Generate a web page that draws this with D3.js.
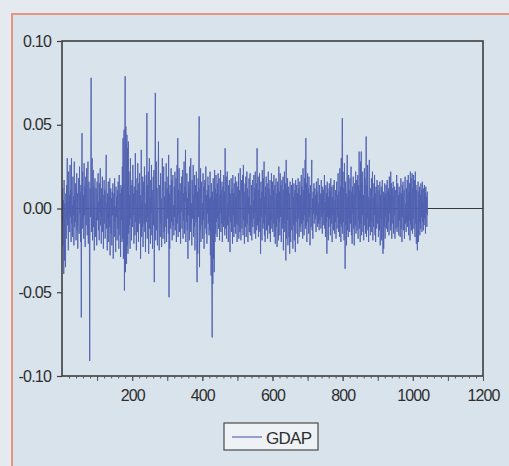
<!DOCTYPE html>
<html>
<head>
<meta charset="utf-8">
<script src="https://cdn.jsdelivr.net/npm/d3@7"></script>
<style>
  html, body { margin: 0; padding: 0; background: #e6ecf0; }
  svg { display: block; }
  text { font-family: "Liberation Sans", Arial, sans-serif; fill: #2e2e2e; }
</style>
</head>
<body>
<svg id="chart" width="509" height="466"></svg>
<script>
// ---- data (GDAP, in thousandths; observation numbers start at 1) ----
const seriesName = "GDAP";
const gdapPermille = [
 -8,12,-22,5,-39,17,-31,3,-12,-35,9,-18,14,-6,30,-10,4,-25,22,-3,
 8,-14,26,-5,11,-20,30,-9,2,-17,19,-4,7,-22,28,-11,5,-8,15,-19,
 3,21,-13,9,-24,6,18,-7,-15,25,-3,10,-20,14,-65,4,45,-12,22,-6,
 8,-18,27,-4,13,-23,6,19,-10,24,-2,-16,11,28,-21,5,16,-9,-91,12,
 -5,20,78,-14,9,30,-19,4,23,-11,13,-25,7,18,-8,-17,12,3,-22,16,
 -7,10,21,-13,4,-19,15,-2,24,-10,6,-21,12,-5,19,-14,8,-24,2,17,
 -9,11,-18,5,14,32,-12,3,-25,9,-6,16,-20,7,-11,18,-28,4,12,-15,
 6,-22,10,-4,15,-30,3,9,-17,18,-8,1,-26,13,-5,7,-19,11,-12,16,
 -3,-24,20,5,-16,9,-29,14,-7,12,-20,25,-18,42,-30,38,47,-49,35,79,
 -38,49,28,-33,44,-22,36,-27,40,-15,22,-10,8,-24,30,-6,14,-19,3,17,
 -11,26,-4,9,-21,13,2,-16,33,-8,18,-25,5,11,-14,27,-3,-20,15,-9,
 21,-6,8,-30,12,35,-17,4,-11,19,-23,7,16,-9,25,-14,3,-26,10,20,
 -8,57,-18,14,-5,22,-27,9,30,-12,6,-21,17,-3,26,-16,11,-24,4,19,
 -10,23,-44,8,15,69,-19,5,28,-13,12,-22,3,18,40,-7,-25,14,2,-17,
 21,-9,6,-23,13,30,-4,-18,10,25,-14,7,-21,16,1,-11,27,-20,8,12,
 -6,19,-15,32,-53,9,-24,14,4,-12,24,-8,17,-19,6,20,-10,2,-16,13,
 -5,22,-13,8,18,-20,3,26,-9,42,-17,11,-4,24,-14,7,15,-21,10,-2,
 19,-12,5,23,-18,9,-7,28,-15,13,4,35,-20,10,-8,21,-13,6,-30,16,
 -4,12,-19,25,7,-14,30,-9,3,-22,17,-6,11,26,-17,8,-11,20,-25,5,
 14,-8,22,-19,-44,10,-27,18,-5,29,55,-35,12,-13,24,-20,6,16,-10,3,
 -18,21,-7,13,-24,9,17,-12,4,25,-15,8,-21,11,-3,19,-9,14,-16,6,
 -13,22,-28,7,-40,15,-35,-77,10,-45,18,-30,5,-38,23,-20,12,-15,20,-8,
 9,-17,15,-6,21,-12,4,18,-19,8,-3,23,-14,11,-9,16,-20,2,13,-11,
 20,-7,10,-16,36,-12,5,19,-18,8,22,-10,3,-20,14,-5,17,-13,-26,9,
 -8,18,-14,6,12,-21,20,-4,9,-17,15,-11,2,19,-15,7,-9,16,-20,4,
 13,-10,21,-18,5,11,-14,24,-6,-19,8,17,-12,3,20,-16,26,-7,10,-21,
 6,15,-11,19,-17,4,22,-9,12,-20,7,-3,18,-14,10,21,-16,2,-8,14,
 -19,9,17,-11,5,-6,20,-15,12,-2,22,-18,8,15,-13,36,-10,4,19,-17,
 11,-8,21,-14,6,-27,16,-5,10,-19,23,3,-12,18,-9,28,-16,7,-20,13,
 -4,19,-13,9,15,-18,2,22,-10,12,-15,6,17,-20,8,-7,21,-12,4,16,
 -14,11,-9,20,-17,7,14,-21,3,18,-11,9,-23,16,-6,12,-19,25,-8,10,
 -16,21,-5,14,-20,8,17,-12,4,19,-25,11,-9,22,-14,6,15,-31,29,-18,
 12,-7,18,-22,5,13,-17,9,-27,16,-4,-20,10,14,-13,3,18,-24,7,-10,
 15,-19,6,11,-26,17,-8,2,14,-15,9,-21,18,-6,12,-17,4,16,-11,8,
 -14,20,-9,13,5,-18,24,-7,11,-16,18,-4,29,-12,42,-10,15,-20,7,21,
 -8,12,-15,19,-5,9,-22,14,3,-11,17,29,-13,6,-18,10,-3,15,-9,4,
 12,-6,8,-14,16,-4,10,-11,5,18,-9,3,-13,14,-7,9,2,-12,17,-5,
 8,-15,13,-3,11,-10,6,20,-12,4,-17,14,-8,9,-27,16,-5,12,-19,7,
 -11,15,-6,10,-16,18,3,-9,13,-20,7,-4,14,-13,9,17,-15,5,-8,11,
 -18,6,16,-12,8,-5,21,-14,10,2,-17,24,-9,13,-20,30,-11,18,54,-15,
 22,-8,12,-19,27,5,-36,16,-10,9,-22,14,32,-13,7,-17,20,-6,11,-14,
 18,-9,4,25,-16,10,-21,13,-3,19,-12,8,-22,15,2,-10,22,-15,6,17,
 -13,9,20,-18,14,-7,34,-12,11,-20,28,-9,34,-16,16,-4,22,-14,8,-19,
 12,24,-10,18,-15,9,43,-17,14,-6,26,-13,7,-20,19,29,-11,5,-16,12,
 -8,18,-14,10,22,-19,6,-11,15,-4,20,-16,9,-20,13,3,-12,17,-9,7,
 14,-17,5,11,-13,16,-22,8,-6,13,-19,4,17,-15,-27,10,-24,7,-11,15,
 -18,9,-5,14,-12,6,17,-14,10,-8,12,-16,19,-3,8,-13,22,-10,15,-18,
 5,12,-9,16,-15,7,-4,13,-18,9,11,-12,6,20,-14,3,15,-11,8,-16,
 13,-7,10,-17,4,18,-12,9,-20,14,-5,16,-13,7,11,-18,6,19,-9,3,
 -14,12,-8,17,-11,6,20,-16,10,-7,15,-19,22,-10,18,-13,8,21,-15,12,
 -6,20,-12,9,17,-17,22,-9,14,-21,11,-14,-25,6,16,-20,10,-8,13,-16,
 8,-12,15,-5,11,-14,16,-8,4,-13,12,-10,14,-6,9,-15,13,-3,7,-11,10,-4
];
const xDomain = [0, 1200];
const yDomain = [-0.10, 0.10];
const xTickLabels = [200, 400, 600, 800, 1000, 1200];
const yTickLabels = [-0.10, -0.05, 0.00, 0.05, 0.10];

const data = gdapPermille.map((v, i) => ({ obs: i + 1, value: v / 1000 }));

// ---- layout ----
const svg = d3.select("#chart");
const W = 509, H = 466;
const plot = { left: 62, right: 483, top: 41, bottom: 376 };
const FONT = '"Liberation Sans", Arial, sans-serif';

// outer panel + salmon frame
svg.append("rect").attr("x", 0).attr("y", 0).attr("width", W).attr("height", H).attr("fill", "#e4eaef");
svg.append("rect").attr("x", 12).attr("y", 14).attr("width", W - 12).attr("height", H - 14).attr("fill", "#d9e3ec");
svg.append("line").attr("x1", 12).attr("x2", 12).attr("y1", 13).attr("y2", H)
  .attr("stroke", "#e59580").attr("stroke-width", 2);
svg.append("line").attr("x1", 11).attr("x2", W).attr("y1", 14).attr("y2", 14)
  .attr("stroke", "#e59580").attr("stroke-width", 2);

const x = d3.scaleLinear().domain(xDomain).range([plot.left, plot.right]);
const y = d3.scaleLinear().domain(yDomain).range([plot.bottom, plot.top]);

// zero line
svg.append("line")
  .attr("x1", plot.left).attr("x2", plot.right)
  .attr("y1", y(0)).attr("y2", y(0))
  .attr("stroke", "#3a3a3a").attr("stroke-width", 1);

// series line
const line = d3.line().x(d => x(d.obs)).y(d => y(d.value));
svg.append("path")
  .datum(data)
  .attr("d", line)
  .attr("fill", "none")
  .attr("stroke", "#4f60b0")
  .attr("stroke-width", 0.9);

// frame
svg.append("rect")
  .attr("x", plot.left).attr("y", plot.top)
  .attr("width", plot.right - plot.left).attr("height", plot.bottom - plot.top)
  .attr("fill", "none").attr("stroke", "#3d3d3d").attr("stroke-width", 1.6);

// y axis
const yAxis = d3.axisLeft(y).tickValues(yTickLabels).tickSize(5).tickPadding(6)
  .tickFormat(d3.format(".2f"));
const gy = svg.append("g").attr("transform", `translate(${plot.left},0)`).call(yAxis);
gy.select(".domain").remove();
gy.selectAll(".tick line").attr("stroke", "#3d3d3d").attr("stroke-width", 1.2);
gy.selectAll(".tick text").attr("font-size", 16).attr("letter-spacing", "-0.8px")
  .attr("fill", "#2a2a2a").style("font-family", FONT)
  .text(d => d < 0 ? "-" + d3.format(".2f")(-d) : d3.format(".2f")(d));

// x axis minor ticks (every 20)
const xMinor = d3.axisBottom(x).tickValues(d3.range(20, 1200, 20)).tickSize(2.5).tickFormat("");
const gxm = svg.append("g").attr("transform", `translate(0,${plot.bottom})`).call(xMinor);
gxm.select(".domain").remove();
gxm.selectAll(".tick line").attr("stroke", "#555").attr("stroke-width", 1);

// x axis medium ticks (every 100)
const xMid = d3.axisBottom(x).tickValues(d3.range(100, 1200, 100)).tickSize(5).tickFormat("");
const gxd = svg.append("g").attr("transform", `translate(0,${plot.bottom})`).call(xMid);
gxd.select(".domain").remove();
gxd.selectAll(".tick line").attr("stroke", "#555").attr("stroke-width", 1);

// x axis labels
const xAxis = d3.axisBottom(x).tickValues(xTickLabels).tickSize(5).tickPadding(9).tickFormat(d3.format("d"));
const gx = svg.append("g").attr("transform", `translate(0,${plot.bottom})`).call(xAxis);
gx.select(".domain").remove();
gx.selectAll(".tick line").attr("stroke", "#555").attr("stroke-width", 1);
gx.selectAll(".tick text").attr("font-size", 16).attr("letter-spacing", "-0.9px")
  .attr("fill", "#2a2a2a").style("font-family", FONT);

// legend
const lg = svg.append("g");
lg.append("rect").attr("x", 224).attr("y", 423).attr("width", 94).attr("height", 27)
  .attr("fill", "#eef2f5").attr("stroke", "#4a4a4a").attr("stroke-width", 1.2);
lg.append("line").attr("x1", 232).attr("x2", 262).attr("y1", 437).attr("y2", 437)
  .attr("stroke", "#7783c6").attr("stroke-width", 1.5);
lg.append("text").attr("x", 266).attr("y", 444).attr("font-size", 17)
  .attr("letter-spacing", "-0.7px").attr("fill", "#2a2a2a").text(seriesName);
</script>
</body>
</html>
